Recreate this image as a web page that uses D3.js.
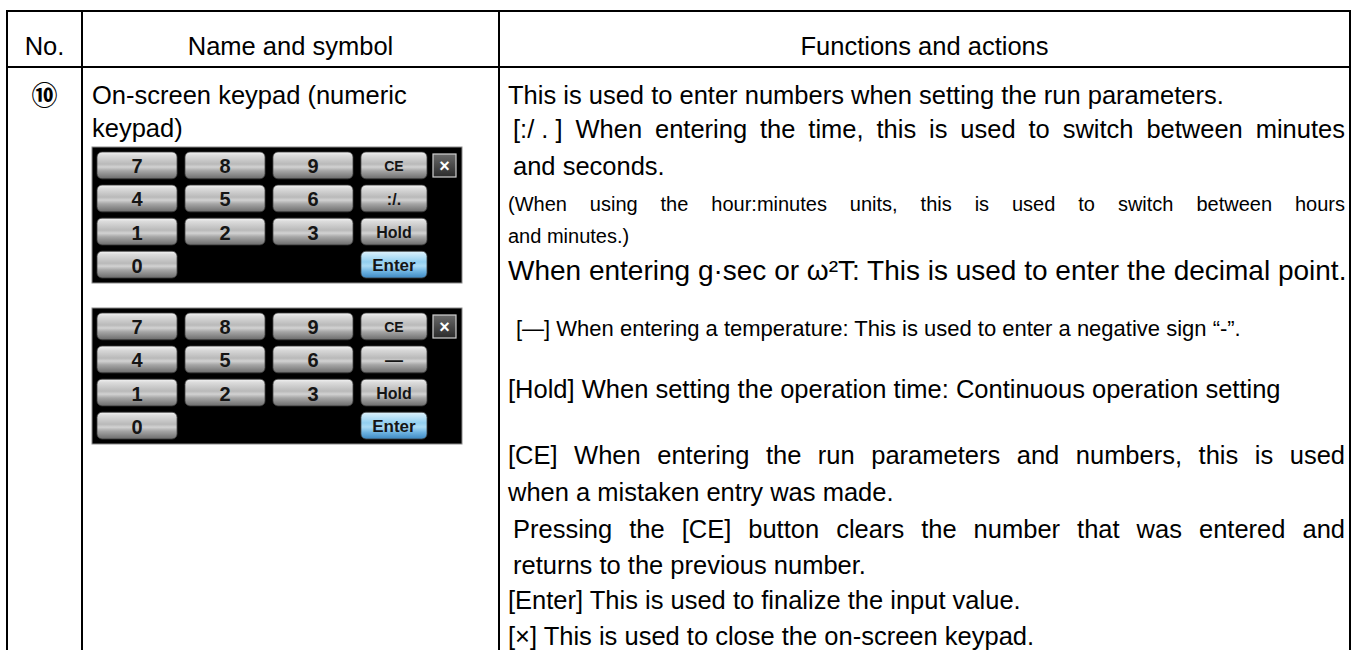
<!DOCTYPE html>
<html><head><meta charset="utf-8">
<script src="https://cdn.jsdelivr.net/npm/d3@7"></script>
<style>
body{margin:0;background:#fff;}
svg{display:block;}
text{font-family:"Liberation Sans",Arial,Helvetica,sans-serif;fill:#000;}
</style>
</head><body>
<svg id="c" width="1355" height="650"></svg>
<script>
// ---------- data ----------
const headers = ["No.", "Name and symbol", "Functions and actions"];
const rowNumber = "\u2469";
const nameLines = ["On-screen keypad (numeric", "keypad)"];
const funcLines = [
  "This is used to enter numbers when setting the run parameters.",
  "[:/\u00a0.\u00a0] When entering the time, this is used to switch between minutes",
  "and seconds.",
  "(When using the hour:minutes units, this is used to switch between hours",
  "and minutes.)",
  "When entering g\u00b7sec or \u03c9\u00b2T: This is used to enter the decimal point.",
  "[\u2014] When entering a temperature: This is used to enter a negative sign \u201c-\u201d.",
  "[Hold] When setting the operation time: Continuous operation setting",
  "[CE] When entering the run parameters and numbers, this is used",
  "when a mistaken entry was made.",
  "Pressing the [CE] button clears the number that was entered and",
  "returns to the previous number.",
  "[Enter] This is used to finalize the input value.",
  "[\u00d7] This is used to close the on-screen keypad."
];
const keypadA = ["7","8","9","CE","4","5","6",":/.","1","2","3","Hold","0","","","Enter"];
const keypadB = ["7","8","9","CE","4","5","6","\u2014","1","2","3","Hold","0","","","Enter"];
const closeLabel = "\u00d7";

// ---------- layout ----------
const W = 1355, H = 650;
const colEdges = [7, 82, 499, 1350];
const rowTop = 11, headerBottom = 67;
// per-line layout: [gap to this baseline, font size, indent, justify]
const lineLayout = [
  [104, 25.5, 0, false],
  [34, 25.5, 5, true],
  [37, 25.5, 5, false],
  [36, 20, 0, true],
  [32, 20, 0, false],
  [37, 28, 0, false],
  [56, 22, 8, false],
  [62, 25.5, 0, false],
  [66, 25.5, 0, true],
  [37, 25.5, 0, false],
  [37, 25.5, 5, true],
  [36, 25.5, 5, false],
  [35, 25.5, 0, false],
  [36, 25.5, 0, false]
];

const svg = d3.select("#c");
svg.append("rect").attr("width", W).attr("height", H).attr("fill", "#fff");

const defs = svg.append("defs");
const g1 = defs.append("linearGradient").attr("id","keyGrad").attr("x1",0).attr("y1",0).attr("x2",0).attr("y2",1);
[[0,"#f4f4f4"],[0.12,"#dcdcdc"],[0.45,"#b9b9b9"],[0.56,"#d2d2d2"],[0.7,"#a6a6a6"],[1,"#6c6c6c"]]
  .forEach(s=>g1.append("stop").attr("offset",s[0]).attr("stop-color",s[1]));
const g2 = defs.append("linearGradient").attr("id","enterGrad").attr("x1",0).attr("y1",0).attr("x2",0).attr("y2",1);
[[0,"#dff3fd"],[0.4,"#92cff0"],[0.55,"#acdcf5"],[0.75,"#6fb4e2"],[1,"#3d88c2"]]
  .forEach(s=>g2.append("stop").attr("offset",s[0]).attr("stop-color",s[1]));
const g3 = defs.append("linearGradient").attr("id","closeGrad").attr("x1",0).attr("y1",0).attr("x2",0).attr("y2",1);
[[0,"#6a6a6a"],[1,"#2a2a2a"]].forEach(s=>g3.append("stop").attr("offset",s[0]).attr("stop-color",s[1]));

// ---------- table grid ----------
const grid = svg.append("g").attr("stroke","#000").attr("stroke-width",2);
grid.append("line").attr("x1",colEdges[0]).attr("x2",colEdges[3]).attr("y1",rowTop).attr("y2",rowTop);
grid.append("line").attr("x1",colEdges[0]).attr("x2",colEdges[3]).attr("y1",headerBottom).attr("y2",headerBottom);
colEdges.forEach(x=>grid.append("line").attr("x1",x).attr("x2",x).attr("y1",rowTop-1).attr("y2",H+2));

// headers
headers.forEach((h,i)=>{
  svg.append("text").attr("x",(colEdges[i]+colEdges[i+1])/2).attr("y",55)
    .attr("text-anchor","middle").style("font-size","25.5px").text(h);
});

// row number
svg.append("text").attr("x",(colEdges[0]+colEdges[1])/2).attr("y",105)
  .attr("text-anchor","middle").style("font-family","'Noto Sans CJK JP','DejaVu Sans',sans-serif")
  .style("font-size","26px").style("font-weight","bold").text(rowNumber);

// name lines
nameLines.forEach((t,i)=>{
  svg.append("text").attr("x",colEdges[1]+10).attr("y",104+i*33).style("font-size","25.5px").text(t);
});

// function lines
const fx0 = colEdges[2]+9, fx1 = colEdges[3]-5;
function drawLine(text, x0, x1, y, size, justify){
  if(!justify){
    svg.append("text").attr("x",x0).attr("y",y).style("font-size",size+"px").text(text);
    return;
  }
  const words = text.split(" ");
  const tmp = svg.append("text").style("font-size",size+"px");
  const widths = words.map(w=>{tmp.text(w);return tmp.node().getComputedTextLength();});
  tmp.remove();
  const gap = (x1-x0-d3.sum(widths))/(words.length-1);
  const t = svg.append("text").attr("y",y).style("font-size",size+"px");
  let x = x0;
  words.forEach((w,i)=>{t.append("tspan").attr("x",x).text(w);x+=widths[i]+gap;});
}
let yAcc = 0;
funcLines.forEach((t,i)=>{
  const L = lineLayout[i];
  yAcc += L[0];
  drawLine(t, fx0+L[2], fx1, yAcc, L[1], L[3]);
});

// ---------- keypads ----------
function drawKeypad(labels, top){
  const kp = svg.append("g");
  const left = 92, width = 370, height = 136;
  kp.append("rect").attr("x",left).attr("y",top).attr("width",width).attr("height",height)
    .attr("fill","#000").attr("stroke","#8a8a8a").attr("stroke-width",1);
  const xs = d3.scaleBand().domain(d3.range(4)).range([left+5,left+349]).paddingInner(0.09);
  const ys = d3.scaleBand().domain(d3.range(4)).range([top+5,top+131]).paddingInner(0.19);
  labels.forEach((lab,i)=>{
    if(lab==="") return;
    const c = i%4, r = Math.floor(i/4);
    const w = c===3 ? xs.bandwidth()-14 : xs.bandwidth();
    const x = xs(c), y = ys(r), h = ys.bandwidth();
    kp.append("rect").attr("x",x).attr("y",y).attr("width",w).attr("height",h).attr("rx",5)
      .attr("fill", lab==="Enter" ? "url(#enterGrad)" : "url(#keyGrad)")
      .attr("stroke","#3a3a3a").attr("stroke-width",0.8);
    let fs = 20;
    if(lab==="CE") fs=14; else if(lab==="Hold") fs=16; else if(lab==="Enter") fs=17; else if(lab===":/.") fs=16; else if(lab==="\u2014") fs=18;
    kp.append("text").attr("x",x+w/2).attr("y",y+h/2+1).attr("text-anchor","middle")
      .attr("dominant-baseline","central").style("font-size",fs+"px").style("font-weight","bold")
      .style("fill","#151515").text(lab);
  });
  // close button
  const cx = left+width-29, cy = top+7;
  kp.append("rect").attr("x",cx).attr("y",cy).attr("width",23).attr("height",23)
    .attr("fill","url(#closeGrad)").attr("stroke","#d0d0d0").attr("stroke-width",1.2);
  kp.append("text").attr("x",cx+11.5).attr("y",cy+12).attr("text-anchor","middle")
    .attr("dominant-baseline","central").style("font-size","18px").style("font-weight","bold")
    .style("fill","#fff").text(closeLabel);
}
drawKeypad(keypadA, 147);
drawKeypad(keypadB, 308);
</script>
</body></html>
